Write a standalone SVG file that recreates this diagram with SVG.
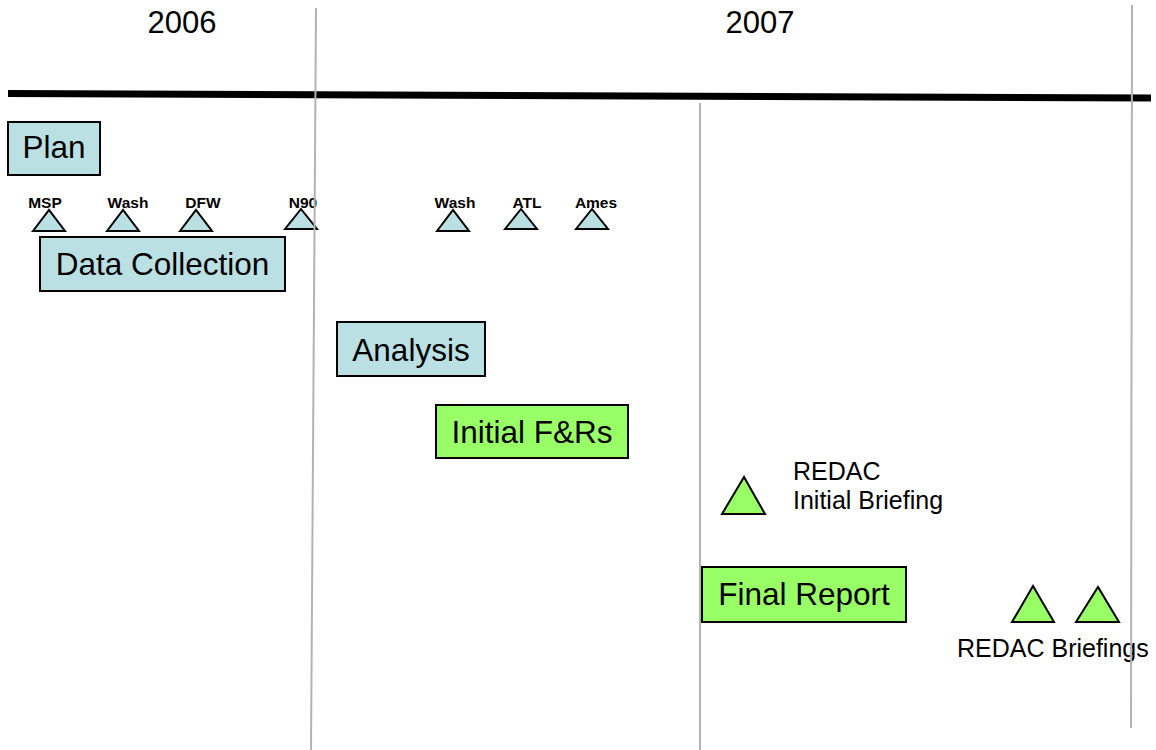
<svg xmlns="http://www.w3.org/2000/svg" width="1156" height="750" viewBox="0 0 1156 750">
  <style>
    .bg { fill: #ffffff; }
    .grid { stroke: #b3b3b3; stroke-width: 2; fill: none; }
    .axis { stroke: #000000; stroke-width: 7; fill: none; }
    .year { font-family: "Liberation Sans", Arial, sans-serif; font-size: 31px; fill: #000000; text-anchor: middle; }
    .box { stroke: #000000; stroke-width: 2; }
    .blue { fill: #bae0e3; }
    .green { fill: #99ff66; }
    .label { font-family: "Liberation Sans", Arial, sans-serif; font-size: 31.5px; fill: #000000; text-anchor: middle; }
    .site { font-family: "Liberation Sans", Arial, sans-serif; font-size: 15.5px; font-weight: bold; fill: #000000; text-anchor: middle; }
    .note { font-family: "Liberation Sans", Arial, sans-serif; font-size: 25px; fill: #000000; }
    .tri { stroke: #000000; stroke-width: 2; stroke-linejoin: miter; }
  </style>
  <rect class="bg" x="0" y="0" width="1156" height="750"/>

  <g id="year-2006"><text class="year" x="182" y="33">2006</text></g>
  <g id="year-2007"><text class="year" x="760" y="33">2007</text></g>

  <!-- task bars -->
  <g id="plan">
    <rect class="box blue" x="8" y="122" width="92" height="53"/>
    <text class="label" x="54" y="158">Plan</text>
  </g>
  <g id="data-collection">
    <rect class="box blue" x="40" y="237" width="245" height="54"/>
    <text class="label" x="162.5" y="275">Data Collection</text>
  </g>
  <g id="analysis">
    <rect class="box blue" x="337" y="322" width="148" height="54"/>
    <text class="label" x="411" y="361">Analysis</text>
  </g>
  <g id="initial-frs">
    <rect class="box green" x="436" y="405" width="192" height="53"/>
    <text class="label" x="532" y="443">Initial F&amp;Rs</text>
  </g>
  <g id="final-report">
    <rect class="box green" x="702" y="567" width="204" height="55"/>
    <text class="label" x="804" y="605">Final Report</text>
  </g>

  <!-- site visit milestones -->
  <g id="site-msp">
    <polygon class="tri blue" points="33,231 49,210 65,231"/>
    <text class="site" x="45" y="208">MSP</text>
  </g>
  <g id="site-wash-1">
    <polygon class="tri blue" points="107,231 123,210 139,231"/>
    <text class="site" x="128" y="208">Wash</text>
  </g>
  <g id="site-dfw">
    <polygon class="tri blue" points="180,231 196,210 212,231"/>
    <text class="site" x="203" y="208">DFW</text>
  </g>
  <g id="site-n90">
    <polygon class="tri blue" points="285,229 301,209 317,229"/>
    <text class="site" x="303" y="208">N90</text>
  </g>
  <g id="site-wash-2">
    <polygon class="tri blue" points="437,231 453,210 469,231"/>
    <text class="site" x="455" y="208">Wash</text>
  </g>
  <g id="site-atl">
    <polygon class="tri blue" points="505,229 521,209 537,229"/>
    <text class="site" x="527" y="208">ATL</text>
  </g>
  <g id="site-ames">
    <polygon class="tri blue" points="576,229 592,209 608,229"/>
    <text class="site" x="596" y="208">Ames</text>
  </g>

  <!-- briefing milestones -->
  <g id="redac-initial">
    <polygon class="tri green" points="722,514 744,477 765,514"/>
    <text class="note" x="793" y="480">REDAC</text>
    <text class="note" x="793" y="509">Initial Briefing</text>
  </g>
  <g id="redac-briefings">
    <polygon class="tri green" points="1012,622 1033,586 1054,622"/>
    <polygon class="tri green" points="1076,622 1098,587 1119,622"/>
    <text class="note" x="957" y="657">REDAC Briefings</text>
  </g>

  <!-- timeline axis, then year dividers drawn over everything -->
  <g id="connectors">
    <line class="axis" x1="8" y1="93.5" x2="1151" y2="98"/>
    <line class="grid" x1="316" y1="8" x2="311" y2="750"/>
    <line class="grid" x1="700" y1="103" x2="700" y2="750"/>
    <line class="grid" x1="1132" y1="5" x2="1131" y2="728"/>
  </g>
</svg>
